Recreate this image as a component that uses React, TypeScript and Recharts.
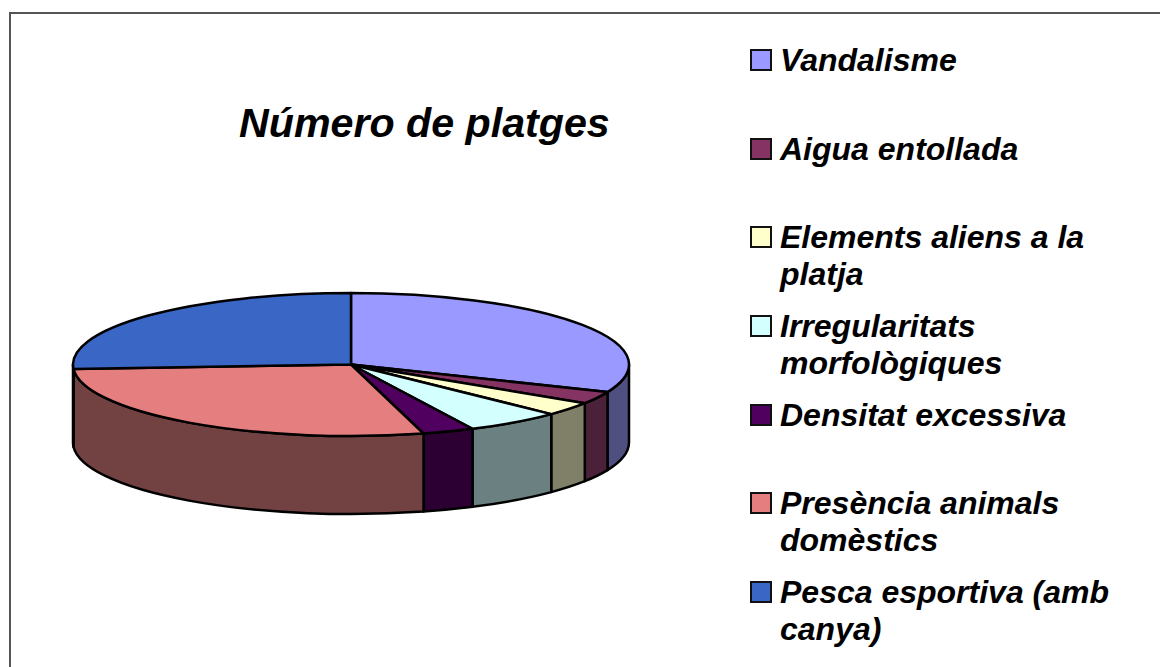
import { Pie, PieChart } from 'recharts';

const categories = [
  'Vandalisme',
  'Aigua entollada',
  'Elements aliens a la platja',
  'Irregularitats morfològiques',
  'Densitat excessiva',
  'Presència animals domèstics',
  'Pesca esportiva (amb canya)',
];
const values = [31.3, 2.8, 3.1, 5.6, 3.0, 28.2, 26];
const topColors = ['#9999ff', '#853362', '#ffffcc', '#d4ffff', '#50005f', '#e57e7e', '#3a66c6'];
const wallColors = ['#4f5080', '#4a2138', '#808068', '#6b8080', '#2c0033', '#724141', '#203870'];

const chartData = categories.map((name, i) => ({
  name,
  value: values[i],
  fill: topColors[i],
  wallFill: wallColors[i],
}));

const TILT = 71.5 / 278;
const DEPTH = 78;
const font = '"Liberation Sans", Arial, sans-serif';

const pointAt = (cx: number, cy: number, r: number, deg: number) => {
  const a = (deg * Math.PI) / 180;
  return { x: cx + r * Math.cos(a), y: cy - r * TILT * Math.sin(a) };
};

// flattened slice, the angles come from the Pie layout
function TopSlice(props: any) {
  const { cx, cy, outerRadius: r, startAngle, endAngle, fill } = props;
  const p1 = pointAt(cx, cy, r, startAngle);
  const p2 = pointAt(cx, cy, r, endAngle);
  const large = Math.abs(startAngle - endAngle) > 180 ? 1 : 0;
  return (
    <path
      d={`M${cx},${cy} L${p1.x},${p1.y} A${r},${r * TILT} 0 ${large} 1 ${p2.x},${p2.y} Z`}
      fill={fill}
      stroke="#000"
      strokeWidth={2.5}
      strokeLinejoin="round"
    />
  );
}

// side wall, only the front half of the disc shows one
function WallSlice(props: any) {
  const { cx, cy, outerRadius: r, startAngle, endAngle, wallFill } = props;
  const from = Math.min(startAngle, 0);
  const to = Math.max(endAngle, -180);
  if (from <= to) return <g />;
  const p1 = pointAt(cx, cy, r, from);
  const p2 = pointAt(cx, cy, r, to);
  const ry = r * TILT;
  return (
    <path
      d={`M${p1.x},${p1.y} A${r},${ry} 0 0 1 ${p2.x},${p2.y} L${p2.x},${p2.y + DEPTH} A${r},${ry} 0 0 0 ${p1.x},${p1.y + DEPTH} Z`}
      fill={wallFill}
      stroke="#000"
      strokeWidth={2.5}
      strokeLinejoin="round"
    />
  );
}

function LegendList() {
  return (
    <div
      style={{
        position: 'absolute',
        left: 750,
        top: 42,
        width: 370,
        fontFamily: font,
        fontWeight: 700,
        fontStyle: 'italic',
        fontSize: 32,
        lineHeight: '36.5px',
        color: '#000',
      }}
    >
      {chartData.map((item) => (
        <div key={item.name} style={{ position: 'relative', height: 88.7, paddingLeft: 30 }}>
          <span
            style={{
              position: 'absolute',
              left: 0,
              top: 7,
              width: 18,
              height: 18,
              background: item.fill,
              border: '2.5px solid #111',
            }}
          />
          {item.name}
        </div>
      ))}
    </div>
  );
}

export default function App() {
  const pieProps = {
    data: chartData,
    dataKey: 'value',
    nameKey: 'name',
    cx: 351,
    cy: 364.5,
    outerRadius: 278,
    startAngle: 90,
    endAngle: -270,
    isAnimationActive: false,
    label: false,
    labelLine: false,
  };
  return (
    <div style={{ position: 'absolute', left: 0, top: 0, width: 1160, height: 667, background: '#fff' }}>
      <div
        style={{
          position: 'absolute',
          left: 9,
          top: 12,
          width: 1149,
          height: 653,
          borderLeft: '2px solid #555',
          borderTop: '2px solid #555',
        }}
      />
      <div style={{ position: 'absolute', left: 0, top: 0 }}>
        <PieChart width={1160} height={667} margin={{ top: 0, right: 0, bottom: 0, left: 0 }}>
          <text x={239} y={137} fontFamily={font} fontWeight={700} fontStyle="italic" fontSize={41.2} fill="#000">
            Número de platges
          </text>
          <Pie {...pieProps} legendType="none" shape={WallSlice} activeShape={WallSlice} inactiveShape={WallSlice} />
          <Pie {...pieProps} legendType="none" shape={TopSlice} activeShape={TopSlice} inactiveShape={TopSlice} />
        </PieChart>
      </div>
      <LegendList />
    </div>
  );
}
